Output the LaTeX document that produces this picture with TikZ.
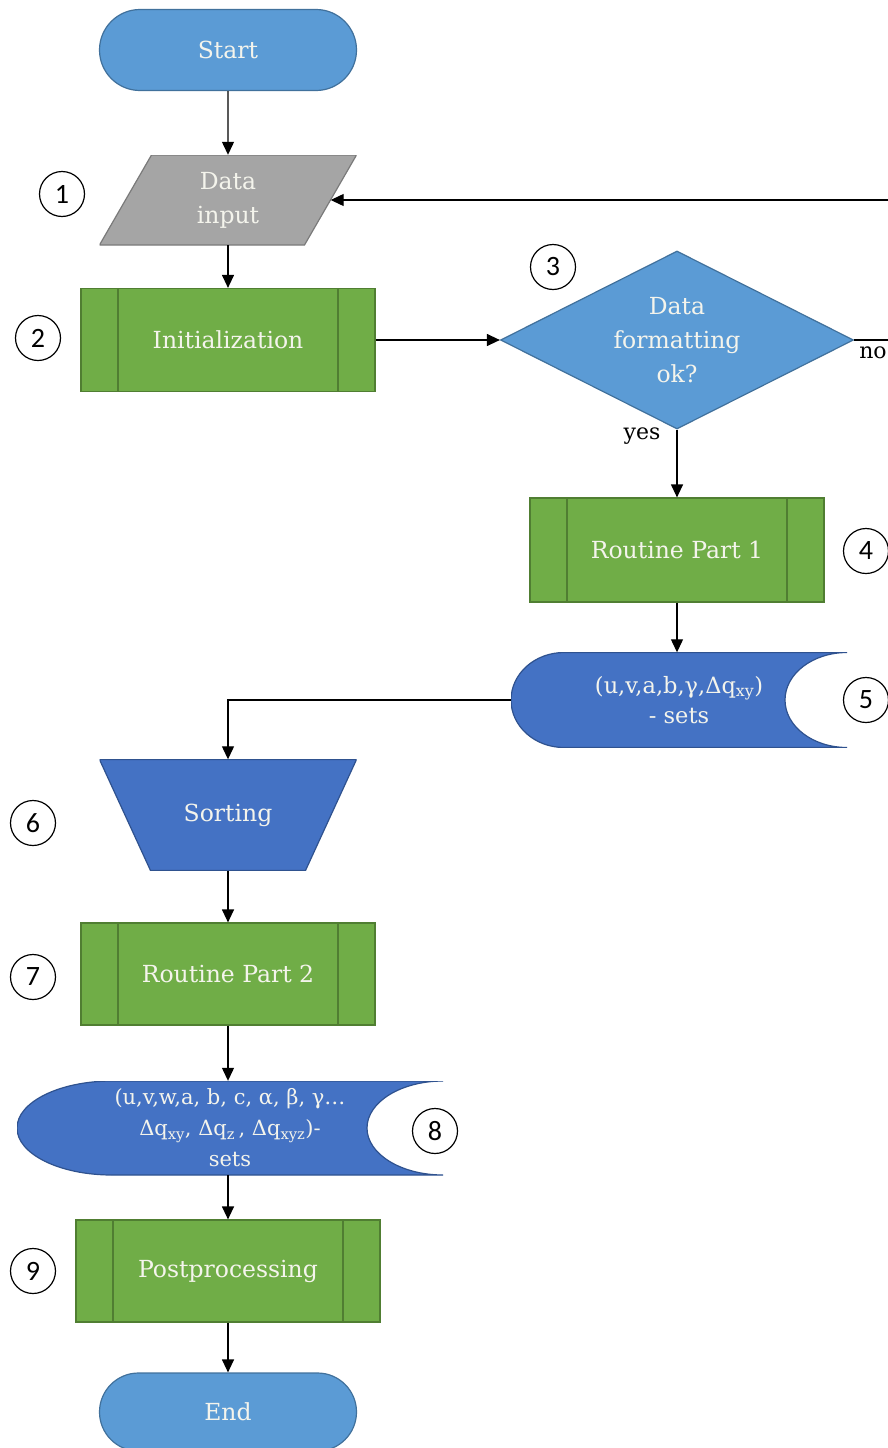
\documentclass[tikz,border=0pt]{standalone}
\usepackage{fontspec}
\setmainfont{DejaVu Serif}
\newfontfamily\numfont{Carlito}
\usetikzlibrary{shapes.geometric,shapes.misc,arrows.meta}

\definecolor{termblue}{HTML}{5B9BD5}
\definecolor{termedge}{HTML}{41719C}
\definecolor{inputgray}{HTML}{A5A5A5}
\definecolor{inputedge}{HTML}{7A7A7A}
\definecolor{procgreen}{HTML}{70AD47}
\definecolor{procedge}{HTML}{507E32}
\definecolor{setsblue}{HTML}{4472C4}
\definecolor{setsedge}{HTML}{2F528F}
\definecolor{boxtext}{HTML}{F4F4EC}

\begin{document}
\begin{tikzpicture}[x=1pt,y=-1pt]

\tikzset{
  box text/.style={
    text=boxtext,
    font=\fontsize{23.5}{34}\selectfont,
    align=center,
    inner sep=0pt,
  },
  terminal/.style={
    box text, rounded rectangle, draw=termedge, fill=termblue, line width=1.2pt,
    minimum width=257pt,
  },
  data io/.style={
    box text, minimum width=257pt, minimum height=90pt,
    path picture={
      \filldraw[draw=inputedge, fill=inputgray, line width=1.2pt]
        (path picture bounding box.south west)
        -- ([xshift=52pt]path picture bounding box.north west)
        -- (path picture bounding box.north east)
        -- ([xshift=-52pt]path picture bounding box.south east) -- cycle;
    },
  },
  manual op/.style={
    box text, minimum width=257pt, minimum height=111pt,
    path picture={
      \filldraw[draw=setsedge, fill=setsblue, line width=1.2pt]
        (path picture bounding box.north west)
        -- (path picture bounding box.north east)
        -- ([xshift=-51pt]path picture bounding box.south east)
        -- ([xshift=51pt]path picture bounding box.south west) -- cycle;
    },
  },
  subroutine/.style={
    box text, draw=procedge, fill=procgreen, line width=1.2pt,
    minimum width=294pt, minimum height=103pt,
    path picture={
      \draw[procedge, line width=1.2pt]
        ([xshift=37pt]path picture bounding box.north west) -- ([xshift=37pt]path picture bounding box.south west)
        ([xshift=-37pt]path picture bounding box.north east) -- ([xshift=-37pt]path picture bounding box.south east);
    },
  },
  stored/.style n args={4}{
    box text, minimum width=#1pt, minimum height=#2pt,
    path picture={
      \filldraw[draw=setsedge, fill=setsblue, line width=1.2pt]
        ([xshift=#3pt]path picture bounding box.north west)
        arc[start angle=90, end angle=270, x radius=#3pt, y radius={#2pt/2}]
        -- (path picture bounding box.south east)
        arc[start angle=270, end angle=90, x radius=#4pt, y radius={#2pt/2}]
        -- cycle;
    },
  },
  num/.style={
    circle, draw, line width=1.2pt, minimum size=45pt, inner sep=0pt,
    font=\numfont\fontsize{28}{28}\selectfont,
  },
  edge label/.style={
    font=\fontsize{22}{30}\selectfont,
  },
  arrow/.style={
    -{Triangle[length=13pt,width=12pt]}, line width=1.2pt,
  },
}

\useasboundingbox (0,0) rectangle (888,1448);
\clip (0,0) rectangle (888,1448);

% Main column
\node[terminal, minimum height=81pt] (start) at (228,50) {Start};
\node[data io] (input) at (228,200) {Data\\input};
\node[subroutine] (init) at (228,340) {Initialization};

% Check and first routine
\node[box text, diamond, aspect=2, draw=termedge, fill=termblue, line width=1.2pt,
      minimum width=353pt, minimum height=178pt] (dec) at (677,340) {Data\\formatting\\ok?};
\node[subroutine, minimum height=104pt] (part1) at (677,550) {Routine Part 1};
\node[stored={336}{95}{53}{62}, font=\fontsize{22.5}{30}\selectfont] (sets1) at (679,700)
  {(u,v,a,b,γ,Δq\textsubscript{xy})\\- sets};

% Second half
\node[manual op] (sort) at (228,815) {Sorting};
\node[subroutine, minimum height=102pt] (part2) at (228,974) {Routine Part 2};
\node[stored={426}{94}{95}{76}, font=\fontsize{21}{31}\selectfont] (sets2) at (230,1128)
  {(u,v,w,a, b, c, α, β, γ…\\
   Δq\textsubscript{xy}, Δq\textsubscript{z}\,, Δq\textsubscript{xyz})-\\sets};
\node[subroutine, minimum width=304pt, minimum height=102pt] (post) at (228,1271) {Postprocessing};
\node[terminal, minimum height=78pt] (end) at (228,1412) {End};

% Step numbers
\node[num] (n1) at (62,194) {1};
\node[num] (n2) at (38,338) {2};
\node[num] (n3) at (553,267) {3};
\node[num] (n4) at (866,551) {4};
\node[num] (n5) at (866,700) {5};
\node[num] (n6) at (33,823) {6};
\node[num] (n7) at (33,977) {7};
\node[num] (n8) at (435,1131) {8};
\node[num] (n9) at (33,1271) {9};

% Branch labels
\node[edge label] (yes) at (642,436) {yes};
\node[edge label] (no) at (873,353) {no};
\coordinate (back) at (905,0);

% Edges
\draw[arrow] (start) -- (input);
\draw[arrow] (input) -- (init);
\draw[arrow] (init) -- (dec);
\draw[arrow] (dec) -- (dec |- part1.north);
\draw[arrow] (dec.east) -| (back |- input.east) -- ([xshift=-26pt]input.east);
\draw[arrow] (part1) -- (part1 |- sets1.north);
\draw[arrow] (sets1.west) -| (sort);
\draw[arrow] (sort) -- (part2);
\draw[arrow] (part2) -- (part2 |- sets2.north);
\draw[arrow] (sets2.south -| post) -- (post);
\draw[arrow] (post) -- (end);

\end{tikzpicture}
\end{document}
